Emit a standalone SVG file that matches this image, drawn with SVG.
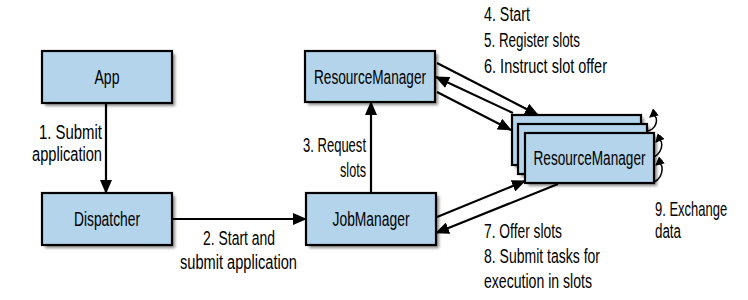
<svg xmlns="http://www.w3.org/2000/svg" width="748" height="300" viewBox="0 0 748 300">
<defs>
<marker id="ah" markerUnits="userSpaceOnUse" markerWidth="14" markerHeight="12" viewBox="0 0 14 12" refX="13" refY="6" orient="auto">
<path d="M0,0 L14,6 L0,12 z" fill="#000"/>
</marker>
<marker id="ahs" markerUnits="userSpaceOnUse" markerWidth="9" markerHeight="9" viewBox="0 0 8 8" refX="7" refY="4" orient="auto">
<path d="M0,0 L8,4 L0,8 z" fill="#000"/>
</marker>
<filter id="sh" x="-10%" y="-10%" width="130%" height="140%">
<feGaussianBlur stdDeviation="1.5"/>
</filter>
</defs>
<style>
.box{fill:#b3d4ea;stroke:#000;stroke-width:2.2}
.shadow{fill:#8a8a8a;filter:url(#sh)}
.t{font-family:"Liberation Sans Narrow","Liberation Sans",Arial,sans-serif;font-size:20px;fill:#000}
.c{text-anchor:middle}
.e{text-anchor:end}
.ln{stroke:#000;stroke-width:2.2;fill:none;marker-end:url(#ah)}
.lp{stroke:#000;stroke-width:1.5;fill:none;marker-end:url(#ahs)}
</style>

<g id="app">
<rect class="shadow" x="45" y="54" width="130" height="52"/>
<rect class="box" x="42" y="51" width="130" height="52"/>
<text class="t c" x="107" y="84" textLength="25" lengthAdjust="spacingAndGlyphs">App</text>
</g>

<g id="dispatcher">
<rect class="shadow" x="45" y="196" width="130" height="52"/>
<rect class="box" x="42" y="193" width="130" height="52"/>
<text class="t c" x="107" y="226" textLength="66" lengthAdjust="spacingAndGlyphs">Dispatcher</text>
</g>

<g id="resourcemanager">
<rect class="shadow" x="308" y="54" width="130" height="51"/>
<rect class="box" x="305" y="51" width="130" height="51"/>
<text class="t c" x="370" y="84" textLength="112" lengthAdjust="spacingAndGlyphs">ResourceManager</text>
</g>

<g id="jobmanager">
<rect class="shadow" x="309" y="196" width="130" height="52"/>
<rect class="box" x="306" y="193" width="130" height="52"/>
<text class="t c" x="371" y="226" textLength="77" lengthAdjust="spacingAndGlyphs">JobManager</text>
</g>

<g id="taskmanagers">
<rect class="shadow" x="515" y="118" width="129" height="50"/>
<rect class="box" x="512" y="115" width="129" height="50"/>
<rect class="shadow" x="521" y="127" width="129" height="50"/>
<rect class="box" x="518" y="124" width="129" height="50"/>
<rect class="shadow" x="528" y="136" width="129" height="50"/>
<rect class="box" x="525" y="133" width="129" height="50"/>
<text class="t c" x="589.5" y="165" textLength="112" lengthAdjust="spacingAndGlyphs">ResourceManager</text>
</g>

<g id="connectors">
<line class="ln" x1="106" y1="103" x2="106" y2="193"/>
<line class="ln" x1="172" y1="219" x2="306" y2="219"/>
<line class="ln" x1="371" y1="193" x2="371" y2="102"/>
<line class="ln" x1="437" y1="63" x2="538" y2="115"/>
<line class="ln" x1="513" y1="113" x2="436" y2="77"/>
<line class="ln" x1="437" y1="92" x2="511" y2="130"/>
<line class="ln" x1="437" y1="217" x2="525" y2="181"/>
<line class="ln" x1="558" y1="184" x2="436" y2="233"/>
<path class="lp" d="M648,131 C660,128 658,110 650,117"/>
<path class="lp" d="M654,157 C665,152 663,134 656,142"/>
<path class="lp" d="M654,182 C665,178 664,158 656,165"/>
</g>

<g id="labels">
<text class="t e" x="102" y="139" textLength="63" lengthAdjust="spacingAndGlyphs">1. Submit</text>
<text class="t e" x="102" y="161" textLength="70" lengthAdjust="spacingAndGlyphs">application</text>
<text class="t" x="203" y="245" textLength="72" lengthAdjust="spacingAndGlyphs">2. Start and</text>
<text class="t" x="180" y="269" textLength="117" lengthAdjust="spacingAndGlyphs">submit application</text>
<text class="t e" x="366" y="152" textLength="63" lengthAdjust="spacingAndGlyphs">3. Request</text>
<text class="t e" x="366" y="177" textLength="26" lengthAdjust="spacingAndGlyphs">slots</text>
<text class="t" x="484" y="21" textLength="46" lengthAdjust="spacingAndGlyphs">4. Start</text>
<text class="t" x="484" y="47" textLength="96" lengthAdjust="spacingAndGlyphs">5. Register slots</text>
<text class="t" x="484" y="73" textLength="123" lengthAdjust="spacingAndGlyphs">6. Instruct slot offer</text>
<text class="t" x="484" y="238" textLength="78" lengthAdjust="spacingAndGlyphs">7. Offer slots</text>
<text class="t" x="484" y="263" textLength="116" lengthAdjust="spacingAndGlyphs">8. Submit tasks for</text>
<text class="t" x="484" y="288" textLength="108" lengthAdjust="spacingAndGlyphs">execution in slots</text>
<text class="t" transform="translate(655,216) scale(0.65,1)" x="0" y="0">9. Exchange</text>
<text class="t" x="655" y="238" textLength="26" lengthAdjust="spacingAndGlyphs">data</text>
</g>
</svg>
